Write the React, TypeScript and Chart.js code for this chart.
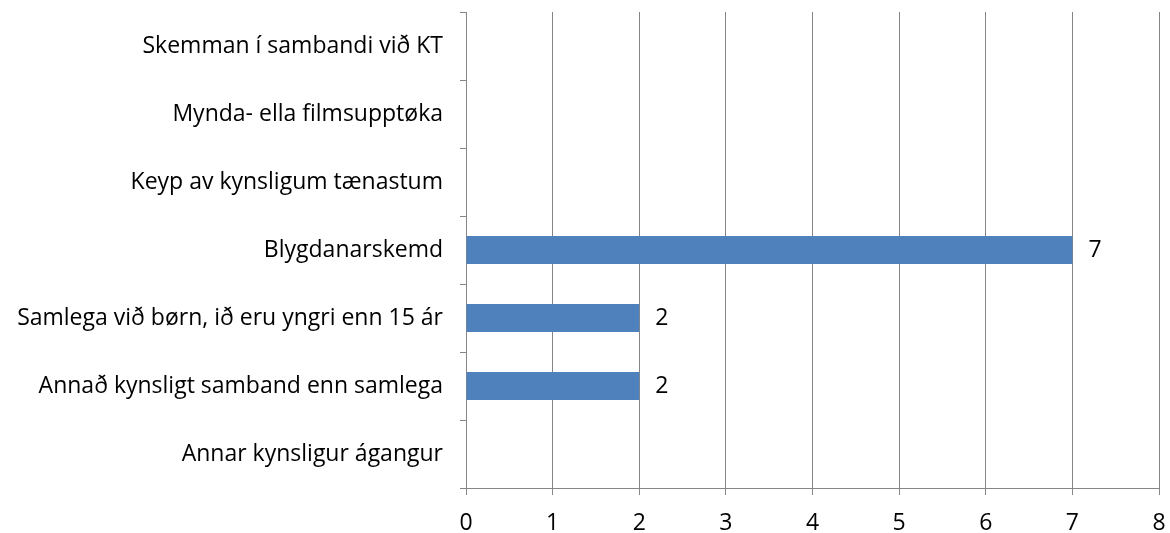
import React, { useEffect, useRef } from "react";
import { Chart, registerables } from "chart.js";

Chart.register(...registerables);

const categories = [
  "Skemman í sambandi við KT",
  "Mynda- ella filmsupptøka",
  "Keyp av kynsligum tænastum",
  "Blygdanarskemd",
  "Samlega við børn, ið eru yngri enn 15 ár",
  "Annað kynsligt samband enn samlega",
  "Annar kynsligur ágangur",
];
const values = [0, 0, 0, 7, 2, 2, 0];
const xTicks = [0, 1, 2, 3, 4, 5, 6, 7, 8];

const FONT = "'Open Sans', sans-serif";
const FS = 23;
const GRID = "#868686";

const valueLabels = {
  id: "valueLabels",
  afterDatasetsDraw(chart: any) {
    const ctx = chart.ctx;
    const meta = chart.getDatasetMeta(0);
    ctx.save();
    ctx.font = `${FS}px ${FONT}`;
    ctx.fillStyle = "#000";
    ctx.textAlign = "left";
    ctx.textBaseline = "middle";
    meta.data.forEach((el: any, i: number) => {
      const v = values[i];
      if (!v) return;
      ctx.fillText(String(v), el.x + 16, el.y);
    });
    ctx.restore();
  },
};

export default function App() {
  const ref = useRef<HTMLCanvasElement>(null);
  useEffect(() => {
    document.body.style.margin = "0";
    const chart = new Chart(ref.current!, {
      type: "bar",
      data: {
        labels: categories,
        datasets: [
          {
            data: values,
            backgroundColor: "#4f81bd",
            borderWidth: 0,
            barPercentage: 0.41,
            categoryPercentage: 1,
          },
        ],
      },
      options: {
        indexAxis: "y",
        animation: false,
        responsive: false,
        maintainAspectRatio: false,
        layout: { padding: { top: 12, right: 11, left: 0, bottom: 0 } },
        plugins: { legend: { display: false }, tooltip: { enabled: false } },
        scales: {
          x: {
            min: 0,
            max: 8,
            afterBuildTicks(scale: any) {
              scale.ticks = xTicks.map((v) => ({ value: v }));
            },
            afterFit(scale: any) {
              scale.height = 45;
              scale.paddingLeft = 0;
              scale.paddingRight = 0;
            },
            grid: { color: GRID, lineWidth: 1, tickLength: 7, drawTicks: true },
            border: { color: GRID, width: 1 },
            ticks: { color: "#000", font: { family: FONT, size: FS }, padding: 15 },
          },
          y: {
            afterFit(scale: any) {
              scale.width = 466;
              scale.paddingTop = 0;
              scale.paddingBottom = 0;
            },
            grid: { drawOnChartArea: false, drawTicks: true, tickLength: 6, color: GRID, offset: true },
            border: { color: GRID, width: 1 },
            ticks: { color: "#000", font: { family: FONT, size: FS }, padding: 17 },
          },
        },
      },
      plugins: [valueLabels],
    });
    return () => chart.destroy();
  }, []);
  return <canvas ref={ref} width={1170} height={533} style={{ display: "block" }} />;
}
